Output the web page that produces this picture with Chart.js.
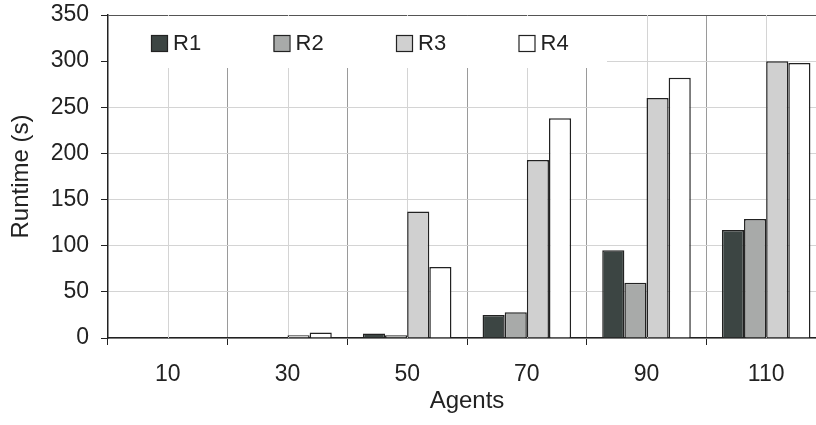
<!DOCTYPE html>
<html>
<head>
<meta charset="utf-8">
<script src="https://cdn.jsdelivr.net/npm/chart.js@4.4.1/dist/chart.umd.min.js"></script>
<style>
  html, body { margin: 0; padding: 0; background: #fff; overflow: hidden; }
  #wrap { width: 816px; height: 425px; overflow: hidden; position: relative; }
  #box { width: 840px; height: 425px; }
</style>
</head>
<body>
<div id="wrap"><div id="box"><canvas id="chart"></canvas></div></div>
<script>
const AGENTS = ["10", "30", "50", "70", "90", "110"];
const R1 = [0, 0, 5, 25, 95, 117];
const R2 = [0, 0, 3, 28, 60, 129];
const R3 = [0, 3, 137, 193, 260, 300];
const R4 = [0, 6, 77, 238, 282, 298];
const SERIES = ["R1", "R2", "R3", "R4"];
const FILLS = ["#3c4543", "#a8aaa9", "#d0d0d0", "#ffffff"];

const FONT = "'Liberation Sans', Arial, sans-serif";
const INK = "#222";

// legend sits inside the plot on a white panel, like the original
const insideLegend = {
  id: "insideLegend",
  beforeDatasetsDraw(chart) {
    const { ctx, chartArea, scales } = chart;
    ctx.save();
    // light lines through category centres
    ctx.strokeStyle = "#d4d4d4";
    ctx.lineWidth = 1;
    AGENTS.forEach((_, i) => {
      const x = Math.round(scales.x.getPixelForValue(i)) + 0.5;
      ctx.beginPath();
      ctx.moveTo(x, chartArea.top);
      ctx.lineTo(x, chartArea.bottom);
      ctx.stroke();
    });
    ctx.fillStyle = "#fff";
    ctx.fillRect(chartArea.left + 1, chartArea.top + 1, 498, 52);
    ctx.font = `22px ${FONT}`;
    ctx.textBaseline = "middle";
    chart.data.datasets.forEach((ds, i) => {
      const x = chartArea.left + 43 + i * 122.5;
      const y = chartArea.top + 20;
      ctx.fillStyle = ds.backgroundColor;
      ctx.fillRect(x, y, 16, 16);
      ctx.strokeStyle = INK;
      ctx.lineWidth = 1.2;
      ctx.strokeRect(x + 0.5, y + 0.5, 16, 16);
      ctx.fillStyle = INK;
      ctx.fillText(ds.label, x + 22, y + 9);
    });
    ctx.restore();
  },
};

new Chart(document.getElementById("chart"), {
  type: "bar",
  data: {
    labels: AGENTS,
    datasets: [R1, R2, R3, R4].map((values, i) => ({
      label: SERIES[i],
      data: values,
      backgroundColor: FILLS[i],
      borderColor: INK,
      borderWidth: 1.5,
      categoryPercentage: 0.74,
      barPercentage: 1.0,
    })),
  },
  options: {
    responsive: true,
    maintainAspectRatio: false,
    animation: false,
    layout: { padding: { top: 15, right: 14, bottom: 0, left: 0 } },
    plugins: {
      legend: { display: false },
      tooltip: { enabled: false },
    },
    scales: {
      x: {
        offset: true,
        grid: {
          offset: true,
          color: "#9a9a9a",
          tickColor: INK,
          tickLength: 7,
          lineWidth: 1,
        },
        border: { color: INK, width: 1.5 },
        ticks: { color: INK, font: { family: FONT, size: 23 }, padding: 16 },
        title: {
          display: true,
          text: "Agents",
          color: INK,
          font: { family: FONT, size: 24 },
          padding: { top: 0, bottom: 9 },
        },
        afterFit: (scale) => {
          scale.height = 87;
          scale.paddingLeft = 0;
          scale.paddingRight = 0;
        },
      },
      y: {
        min: 0,
        max: 350,
        ticks: {
          stepSize: 50,
          color: INK,
          font: { family: FONT, size: 23 },
          padding: 12,
        },
        grid: {
          color: (c) => (c.tick && c.tick.value === 350 ? "#555" : "#d4d4d4"),
          tickColor: INK,
          tickLength: 7,
          lineWidth: 1,
        },
        border: { color: INK, width: 1.5 },
        title: {
          display: true,
          text: "Runtime (s)",
          color: INK,
          font: { family: FONT, size: 24 },
          padding: { top: 7, bottom: 0 },
        },
        afterFit: (scale) => {
          scale.width = 108;
          scale.paddingTop = 0;
          scale.paddingBottom = 0;
        },
      },
    },
  },
  plugins: [insideLegend],
});
</script>
</body>
</html>
